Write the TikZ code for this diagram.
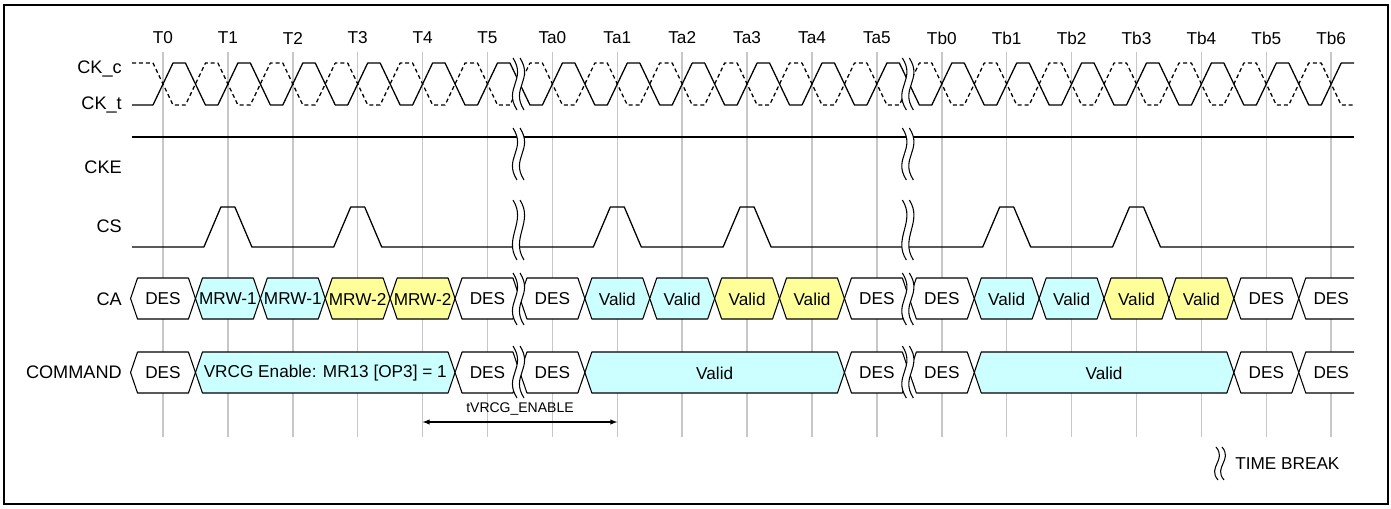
\documentclass[tikz,border=0pt]{standalone}
\usepackage{fontspec}
\setmainfont{Liberation Sans}
\usetikzlibrary{arrows}
\definecolor{vcyan}{HTML}{CCFFFF}
\definecolor{vyellow}{HTML}{FFFF99}
\tikzset{
    gridline/.style = {
        draw=black!22, line width=1.1pt
    },
    wave/.style = {
        line width=0.95pt, line join=round
    },
    wavedash/.style = {
        wave, dash pattern=on 3pt off 2.2pt
    },
    cell/.style = {
        draw, line width=0.8pt, line join=round
    },
    celltext/.style = {
        inner sep=0pt
    },
    siglabel/.style = {
        anchor=east, inner sep=0pt, font=\fontsize{13.6}{16}\selectfont
    },
    ticklabel/.style = {
        inner sep=0pt
    },
    brk/.style = {
        line width=0.8pt
    },
    dimline/.style = {
        latex-latex, line width=0.8pt
    }
}

\begin{document}
\begin{tikzpicture}[x=0.75pt, y=-0.75pt, every node/.style={font=\fontsize{12.9}{15}\selectfont}]

\useasboundingbox (0,0) rectangle (1391,508);
\draw [line width=1.7pt] (4,5) rectangle (1388,504);

\foreach \i in {0,...,18}
    \draw [gridline] ({163+64.9*\i},52) -- ({163+64.9*\i},437);
\foreach \lbl [count=\i from 0] in {T0,T1,T2,T3,T4,T5,Ta0,Ta1,Ta2,Ta3,Ta4,Ta5,Tb0,Tb1,Tb2,Tb3,Tb4,Tb5,Tb6}
    \node (tick\i) [ticklabel] at ({163+64.9*\i},38) {\lbl};

\node (ckc) [siglabel] at (122,69) {CK\_c};
\node (ckt) [siglabel] at (122,105) {CK\_t};
\node (cke) [siglabel] at (122,167) {CKE};
\node (cs) [siglabel] at (122,226) {CS};
\node (ca) [siglabel] at (122,299) {CA};
\node (cmd) [siglabel] at (122,372) {COMMAND};

\draw [wavedash] (132,63) \foreach \i in {0,...,17} {
    -- ({153+64.9*\i},63) -- ({173+64.9*\i},105) -- ({185.45+64.9*\i},105) -- ({205.45+64.9*\i},63)
} -- (1321.2,63) -- (1341.2,105) -- (1354,105);
\draw [wave] (132,105) \foreach \i in {0,...,17} {
    -- ({153+64.9*\i},105) -- ({173+64.9*\i},63) -- ({185.45+64.9*\i},63) -- ({205.45+64.9*\i},105)
} -- (1321.2,105) -- (1341.2,63) -- (1354,63);

\draw [wave] (132,137) -- (1354,137);

\draw [wave] (132,247) \foreach \i in {1,3,7,9,13,15} {
    -- ({139+64.9*\i},247) -- ({156+64.9*\i},207) -- ({170+64.9*\i},207) -- ({187+64.9*\i},247)
} -- (1354,247);

\foreach \a/\b/\col/\txt [count=\k] in {0/1/white/DES, 1/2/vcyan/MRW-1, 2/3/vcyan/MRW-1, 3/4/vyellow/MRW-2, 4/5/vyellow/MRW-2, 5/6/white/DES, 6/7/white/DES, 7/8/vcyan/Valid, 8/9/vcyan/Valid, 9/10/vyellow/Valid, 10/11/vyellow/Valid, 11/12/white/DES, 12/13/white/DES, 13/14/vcyan/Valid, 14/15/vcyan/Valid, 15/16/vyellow/Valid, 16/17/vyellow/Valid, 17/18/white/DES} {
    \draw [cell, fill=\col] ({130.55+64.9*\a},298.5) -- ({137.55+64.9*\a},278) -- ({123.55+64.9*\b},278) -- ({130.55+64.9*\b},298.5) -- ({123.55+64.9*\b},319) -- ({137.55+64.9*\a},319) -- cycle;
    \node (ca\k) [celltext] at ({130.55+32.45*(\a+\b)},299) {\txt};
}
\draw [cell, fill=white] (1354,278) -- (1305.75,278) -- (1298.75,298.5) -- (1305.75,319) -- (1354,319);
\node (ca19) [celltext] at (1331.2,299) {DES};

\foreach \a/\b/\col/\txt [count=\k] in {0/1/white/DES, 1/5/vcyan/{VRCG Enable: MR13 [OP3] = 1}, 5/6/white/DES, 6/7/white/DES, 7/11/vcyan/Valid, 11/12/white/DES, 12/13/white/DES, 13/17/vcyan/Valid, 17/18/white/DES} {
    \draw [cell, fill=\col] ({130.55+64.9*\a},372.5) -- ({137.55+64.9*\a},352) -- ({123.55+64.9*\b},352) -- ({130.55+64.9*\b},372.5) -- ({123.55+64.9*\b},393) -- ({137.55+64.9*\a},393) -- cycle;
    \node (cmd\k) [celltext] at ({130.55+32.45*(\a+\b)},373) {\txt};
}
\draw [cell, fill=white] (1354,352) -- (1305.75,352) -- (1298.75,372.5) -- (1305.75,393) -- (1354,393);
\node (cmd10) [celltext] at (1331.2,373) {DES};

\foreach \bx in {515,904.35}
\foreach \yt/\yb in {58/110, 128/180, 200/260, 273/325, 346/398} {
    \fill [white] ({\bx-2},\yt) .. controls ({\bx+12},{\yt+22}) and ({\bx-12},{\yb-22}) .. ({\bx+2},\yb)
        -- ({\bx+9},\yb) .. controls ({\bx-5},{\yb-22}) and ({\bx+19},{\yt+22}) .. ({\bx+5},\yt) -- cycle;
    \draw [brk] ({\bx-2},\yt) .. controls ({\bx+12},{\yt+22}) and ({\bx-12},{\yb-22}) .. ({\bx+2},\yb);
    \draw [brk] ({\bx+5},\yt) .. controls ({\bx+19},{\yt+22}) and ({\bx-5},{\yb-22}) .. ({\bx+9},\yb);
}

\coordinate (en a) at (422.6,422);
\coordinate (en b) at (617.3,422);
\draw [dimline] (en a) -- node (enlabel) [above=1pt, font=\fontsize{10.5}{12}\selectfont] {tVRCG\_ENABLE} (en b);

\draw [brk] (1216,447) .. controls (1227,460) and (1207,467) .. (1218,480);
\draw [brk] (1222,447) .. controls (1233,460) and (1213,467) .. (1224,480);
\node (tbreak) [anchor=west, inner sep=0pt] at (1235,464) {TIME BREAK};

\end{tikzpicture}
\end{document}
